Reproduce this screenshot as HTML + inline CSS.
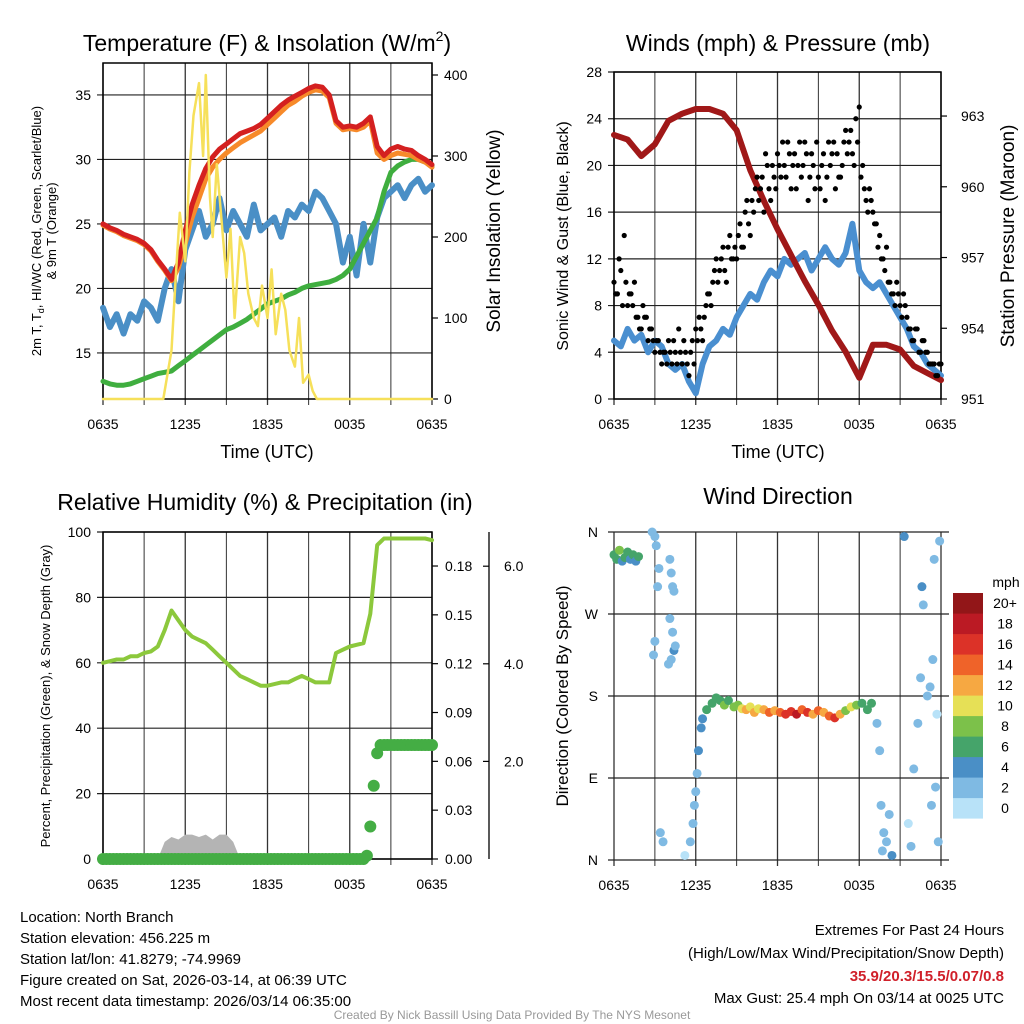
<!DOCTYPE html>
<html><head><meta charset="utf-8"><style>
html,body{margin:0;padding:0;background:#fff;}
svg{display:block;font-family:"Liberation Sans",sans-serif;}
</style></head><body>
<svg id="c" width="1024" height="1024" viewBox="0 0 1024 1024"></svg>
<script>
// ---------- data ----------
const hourTicks = ["0635","1235","1835","0035","0635"];
const tempRed = [25,24.7,24.5,24.2,24,23.8,23.5,23,22.2,21.5,20.7,22,24.5,26.5,28,29.3,30.2,30.8,31.2,31.6,32,32.2,32.4,32.7,33.2,33.7,34.2,34.6,34.9,35.2,35.5,35.7,35.6,35,33,32.5,32.6,32.5,32.8,33.3,31,30.3,30.8,31,30.8,30.7,30.3,30,29.6];
const temp9m = [24.9,24.6,24.4,24.1,23.9,23.7,23.4,22.9,22.1,21.4,20.6,21.6,23.5,25.5,27,28.5,29.4,30,30.5,30.9,31.3,31.6,31.9,32.2,32.7,33.2,33.7,34.2,34.5,34.9,35.2,35.4,35.3,34.8,32.8,32.3,32.4,32.3,32.5,33,30.5,30,30.3,30.5,30.4,30.3,30,29.8,29.4];
const dewGreen = [12.8,12.6,12.5,12.5,12.6,12.8,13,13.2,13.4,13.5,13.6,14,14.4,14.8,15.2,15.6,16,16.4,16.8,17,17.3,17.6,18,18.4,18.8,19,19.2,19.5,19.7,20,20.2,20.3,20.4,20.5,20.7,21,21.5,22.5,23.5,24.5,25.5,27.5,29,29.5,29.8,30,30,29.8,29.5];
const windChill = [18.5,17,18,16.5,18,17.5,19,18.5,17.5,20,21.5,19,23,24.5,26,24,25,27,24.5,26,25,24,26.5,24.5,25,25.5,24,26,25.5,26.5,26,27.5,27,26,25,22,24,21,25,22,25.5,27,27.5,28,27,28,28.5,27.5,28];
const solTime = [0,4.4,5,5.3,5.6,6,6.3,6.6,7,7.3,7.5,7.8,8,8.3,8.6,9,9.3,9.6,10,10.3,10.6,11,11.3,11.6,12,12.3,12.6,13,13.3,13.6,14,14.3,14.6,15,15.3,15.6,16,16.3,24];
const solVal = [0,0,60,150,230,170,280,350,390,300,400,250,200,290,230,150,210,100,200,180,130,100,90,140,100,160,80,130,110,60,40,100,20,30,10,0,0,0,0];
const pressure = [962.2,962,961.3,961.8,962.8,963.1,963.3,963.3,963.1,962.4,960.7,959.4,958.2,957.1,956,955,953.9,953,951.9,953.3,953.3,953.1,952.4,952.1,951.8];
const windSpd = [5,4.5,6,5,5.5,4,5,4.5,3,2.5,3,1.5,0.5,3,4.5,5,6,5.5,7,8,9,8.5,10,11,10.5,12,11.5,12,12.5,11,12,13,12,11.5,12.5,15,11,10,9.5,10,9,8,7,6,4.5,4,3,2.5,2];
const gusts = [10,9,11,14,8,9,10,7,6,7,5,6, 4,5,3,4,5,3,4,6,3,4,2,5, 6,7,5,8,9,10,12,11,13,10,14,12, 12,15,13,17,14,16,19,18,16,20,17,19, 21,19,20,22,18,21,20,19,22,17,21,18, 19,20,17,22,21,18,19,20,23,22,21,24, 25,20,17,18,16,15,14,12,13,10,9,10, 8,9,7,6,5,6,4,5,4,3,3,2, 3];
const gusts2 = [9,12,8,10,9,8,7,6,8,7,6,5, 5,4,4,3,4,5,3,4,5,3,4,3, 5,6,7,9,8,11,10,12,11,13,12,13, 14,13,16,15,17,18,17,19,21,18,20,18, 20,22,19,21,20,18,22,20,21,19,20,22, 18,21,19,20,22,21,19,22,21,23,20,22, 19,18,16,17,15,13,12,11,10,9,8,9, 7,8,6,5,6,4,5,4,3,3,2,3];
const rh = [60,60.5,61,61,62,62,63,63.5,65,70,76,73,70,68,67,66,64,62,60,58,56,55,54,53,53,53.5,54,54,55,56,55,54,54,54,63,64,65,65.5,66,75,96,98,98,98,98,98,98,98,97.5];
const precip = [0,0,0,0,0,0,0,0,0,0,0,0,0,0,0,0,0,0,0,0,0,0,0,0,0,0,0,0,0,0,0,0,0,0,0,0,0,0,0,0,0,0,0,0,0,0,0,0,0,0,0,0,0,0,0,0,0,0,0,0,0,0,0,0,0,0,0,0,0,0,0,0,0,0,0,0,0,0.002,0.02,0.045,0.065,0.07,0.07,0.07,0.07,0.07,0.07,0.07,0.07,0.07,0.07,0.07,0.07,0.07,0.07,0.07,0.07];
const snow = [0,0,0,0,0,0,0,0,0,0.35,0.45,0.4,0.5,0.5,0.45,0.5,0.4,0.5,0.5,0.35,0,0,0,0,0,0,0,0,0,0,0,0,0,0,0,0,0,0,0,0,0,0,0,0,0,0,0,0,0];
const wdTime = [0,0.2,0.4,0.6,0.8,1,1.2,1.4,1.6,1.8,2.8,3.0,3.1,3.3,3.0,2.9,3.2,4.1,4.2,4.3,4.4,4.1,4.3,4.4,4.2,4.5,4.0,3.6,3.4,5.2,5.6,5.8,5.9,6.0,6.1,6.2,6.4,6.5,6.8,7.2,7.5,7.8,8.1,8.4,8.8,9.1,9.4,9.7,10,10.3,10.6,11,11.4,11.8,12.2,12.6,13,13.4,13.8,14.2,14.6,15,15.4,15.8,16.2,16.6,17,17.4,17.8,18.2,18.6,18.9,19.3,19.5,19.6,19.8,19.7,20,20.2,20.4,21.3,21.6,21.8,22,22.3,22.5,22.6,22.7,23,23.2,23.4,23.6,23.8,23.3,23.9,23.5,23.7];
const wdDir = [335,330,340,328,332,338,330,335,328,333,360,355,345,320,240,225,300,330,315,300,295,265,250,230,220,235,215,20,30,5,20,40,60,75,95,120,145,155,165,172,178,175,170,175,168,170,166,165,168,162,166,165,162,164,162,160,163,160,165,162,160,164,162,158,156,160,164,168,170,172,165,172,150,120,60,30,10,20,50,5,355,40,15,100,150,200,300,280,180,190,220,80,20,60,350,330,160];
const wdSpd = [5,6,7,4,5,6,4,5,4,6,2,1,2,1,1,1,1,1,2,1,1,1,2,3,1,1,1,1,1,0,1,1,1,2,2,3,3,4,5,5,5,6,8,6,7,8,10,11,9,12,10,11,13,12,14,16,15,18,13,16,12,13,11,14,15,12,8,10,7,6,5,5,2,1,1,1,1,2,1,3,4,0,1,1,2,2,3,1,2,1,1,2,1,2,1,1,0];
const speedColors = ["#b8e2f8","#7fbae3","#4a8fc6","#45a46a","#7cc14a","#e6e056","#f6a842","#ef6329","#dc3228","#bb1a24","#921618"];
const speedLabels = ["0","2","4","6","8","10","12","14","16","18","20+"];

// ---------- helpers ----------
const NS="http://www.w3.org/2000/svg";
const svg=document.getElementById('c');
function mk(tag,attrs,parent){const e=document.createElementNS(NS,tag);for(const k in attrs)e.setAttribute(k,attrs[k]);(parent||svg).appendChild(e);return e;}
function txt(x,y,s,size,anchor,extra){const e=mk('text',Object.assign({x:x,y:y,'font-size':size,'text-anchor':anchor||'middle',fill:'#000'},extra||{}));e.textContent=s;return e;}
function ln(x1,y1,x2,y2,w,col){return mk('line',{x1:x1,y1:y1,x2:x2,y2:y2,stroke:col||'#000','stroke-width':w||1});}
function poly(pts,col,w){return mk('polyline',{points:pts.map(p=>p[0].toFixed(1)+','+p[1].toFixed(1)).join(' '),fill:'none',stroke:col,'stroke-width':w,'stroke-linejoin':'round','stroke-linecap':'round'});}

const L0=103,L1=432,R0=614,R1=941;
const xL=t=>L0+t*(L1-L0)/24;
const xR=t=>R0+t*(R1-R0)/24;

function timeAxis(xf,ybot,top,name){
  for(let h=0;h<=24;h+=3){
    const g=ln(xf(h),top,xf(h),ybot+6,h%6===0?1.3:1,'#333');
    
    
  }
  hourTicks.forEach((s,i)=>{
    const t=txt(xf(i*6),ybot+30,s,14);
    
    
  });
}

// ================= Panel 1 =================
const y1=v=>399-(v-11.43)*12.9;
const ys1=v=>399-v*0.81;
{const t=txt(267,51,"Temperature (F) & Insolation (W/m",23);
 const a=mk('tspan',{'font-size':14,dy:-10},t);a.textContent='2';const b=mk('tspan',{dy:10},t);b.textContent=')';}
timeAxis(xL,399,63,'p1');
[15,20,25,30,35].forEach(v=>{
  const g=ln(L0-6,y1(v),L1,y1(v),1.2,'#222');
  
  
  const t=txt(L0-12,y1(v)+5,String(v),14,'end');
  
  
});
[0,100,200,300,400].forEach(v=>{
  const g=ln(L1,ys1(v),L1+6,ys1(v),1.2);
  
  
  const t=txt(L1+12,ys1(v)+5,String(v),14,'start');
  
  
});
{const r=mk('rect',{x:L0,y:63,width:L1-L0,height:336,fill:'none',stroke:'#000','stroke-width':1.5});}
{const s=poly(windChill.map((v,i)=>[xL(i*0.5),y1(v)]),'#4a8fc6',6);}
{const s=poly(dewGreen.map((v,i)=>[xL(i*0.5),y1(v)]),'#3fae3f',5);}
{const s=poly(temp9m.map((v,i)=>[xL(i*0.5),y1(v)]),'#f78a2a',5);}
{const s=poly(tempRed.map((v,i)=>[xL(i*0.5),y1(v)]),'#d42020',5);}
{const s=poly(solTime.map((t,i)=>[xL(t),ys1(solVal[i])]),'#f6e05a',2.5);}
{const t=txt(267,458,"Time (UTC)",18);}
{const t=txt(0,0,"2m T, T",13,'middle',{transform:'translate(41,231) rotate(-90)'});
 const a=mk('tspan',{'font-size':9,dy:3},t);a.textContent='d';const b=mk('tspan',{dy:-3},t);b.textContent=', HI/WC (Red, Green, Scarlet/Blue)';}
{const t=txt(0,0,"& 9m T (Orange)",13,'middle',{transform:'translate(56,231) rotate(-90)'});}
{const t=txt(0,0,"Solar Insolation (Yellow)",19,'middle',{transform:'translate(500,231) rotate(-90)'});}

// ================= Panel 2 =================
const yw=v=>399-v*327/28;
const yp=v=>399-(v-951)*23.58;
{const t=txt(778,51,"Winds (mph) & Pressure (mb)",23);}
timeAxis(xR,399,72,'p2');
[0,4,8,12,16,20,24,28].forEach(v=>{
  const g=ln(R0-6,yw(v),R1,yw(v),1.2,'#222');
  
  
  const t=txt(R0-12,yw(v)+5,String(v),14,'end');
  
  
});
[951,954,957,960,963].forEach(v=>{
  const g=ln(R1,yp(v),R1+6,yp(v),1.2);
  
  
  const t=txt(R1+20,yp(v)+5,String(v),14,'start');
  
  
});
{const r=mk('rect',{x:R0,y:72,width:R1-R0,height:327,fill:'none',stroke:'#000','stroke-width':1.5});}
{const s=poly(windSpd.map((v,i)=>[xR(i*0.5),yw(v)]),'#4a8fd0',6);}
{const s=poly(pressure.map((v,i)=>[xR(i),yp(v)]),'#a01818',6);}
gusts.forEach((v,i)=>{
  const c=mk('circle',{cx:xR(i*0.25),cy:yw(v),r:2.6,fill:'#000'});
  
  
});
gusts2.forEach((v,i)=>{
  const c=mk('circle',{cx:xR(0.125+i*0.25),cy:yw(v),r:2.6,fill:'#000'});
  
  
});
{const t=txt(778,458,"Time (UTC)",18);}
{const t=txt(0,0,"Sonic Wind & Gust (Blue, Black)",16,'middle',{transform:'translate(568,236) rotate(-90)'});}
{const t=txt(0,0,"Station Pressure (Maroon)",19,'middle',{transform:'translate(1014,236) rotate(-90)'});}

// ================= Panel 3 =================
const yr=v=>859-v*3.27;
const ypc=v=>859-v*1627.7;
const ysn=v=>859-v*48.8;
{const t=txt(265,510,"Relative Humidity (%) & Precipitation (in)",23);}
timeAxis(xL,859,532,'p3');
[0,20,40,60,80,100].forEach(v=>{
  const g=ln(L0-6,yr(v),L1,yr(v),1.2,'#222');
  
  
  const t=txt(L0-12,yr(v)+5,String(v),14,'end');
  
  
});
["0.00","0.03","0.06","0.09","0.12","0.15","0.18"].forEach(s=>{
  const v=parseFloat(s);
  const g=ln(L1,ypc(v),L1+6,ypc(v),1.2);
  
  
  const t=txt(L1+13,ypc(v)+5,s,14,'start');
  
  
});
{const g=ln(489,532,489,859,1.3);}
["2.0","4.0","6.0"].forEach(s=>{
  const v=parseFloat(s);
  const g=ln(483,ysn(v),489,ysn(v),1.2);
  
  
  const t=txt(504,ysn(v)+5,s,14,'start');
  
  
});
{const r=mk('rect',{x:L0,y:532,width:L1-L0,height:327,fill:'none',stroke:'#000','stroke-width':1.5});}
{const pts=snow.map((v,i)=>xL(i*0.5).toFixed(1)+','+ysn(v).toFixed(1));
 const s=mk('polygon',{points:xL(0)+','+ysn(0)+' '+pts.join(' ')+' '+xL(24)+','+ysn(0),fill:'#b4b4b4'});
 }
{const s=poly(rh.map((v,i)=>[xL(i*0.5),yr(v)]),'#8cc83c',4);}
precip.forEach((v,i)=>{
  const c=mk('circle',{cx:xL(i*0.25),cy:ypc(v),r:6,fill:'#44ad44'});
  
  
});
{const t=txt(0,0,"Percent, Precipitation (Green), & Snow Depth (Gray)",13,'middle',{transform:'translate(50,696) rotate(-90)'});}

// ================= Panel 4 =================
const yd=d=>860-d*328/360;
{const t=txt(778,504,"Wind Direction",23);}
timeAxis(xR,860,532,'p4');
[["N",360],["W",270],["S",180],["E",90],["N",0]].forEach(a=>{
  const g=ln(R0-6,yd(a[1]),R1+8,yd(a[1]),1.2,'#222');
  
  
  const t=txt(R0-16,yd(a[1])+5,a[0],14,'end');
  
  
});
wdTime.forEach((t,i)=>{
  const c=mk('circle',{cx:xR(t),cy:yd(wdDir[i]),r:4.5,fill:speedColors[Math.min(10,Math.round(wdSpd[i]/2))]});
  
  
});
{const t=txt(0,0,"Direction (Colored By Speed)",17,'middle',{transform:'translate(568,696) rotate(-90)'});}
{const t=txt(1006,587,"mph",14);}
speedColors.forEach((c,i)=>{
  const yy=593+(10-i)*20.5;
  const r=mk('rect',{x:953,y:yy,width:30,height:20.6,fill:c});
  
  
  const t=txt(1005,yy+15,speedLabels[i],14);
  
  
});

// ================= Footer =================
["Location: North Branch","Station elevation: 456.225 m","Station lat/lon: 41.8279; -74.9969","Figure created on Sat, 2026-03-14, at 06:39 UTC","Most recent data timestamp: 2026/03/14 06:35:00"].forEach((s,i)=>{
  const t=txt(20,922+i*21,s,15,'start');
  
  
});
{const t=txt(1004,935,"Extremes For Past 24 Hours",15,'end');}
{const t=txt(1004,958,"(High/Low/Max Wind/Precipitation/Snow Depth)",15,'end');}
{const t=txt(1004,981,"35.9/20.3/15.5/0.07/0.8",15,'end',{fill:'#d0202a','font-weight':'bold'});}
{const t=txt(1004,1003,"Max Gust: 25.4 mph On 03/14 at 0025 UTC",15,'end');}
{const t=txt(512,1019,"Created By Nick Bassill Using Data Provided By The NYS Mesonet",12,'middle',{fill:'#999'});}
</script>
</body></html>
